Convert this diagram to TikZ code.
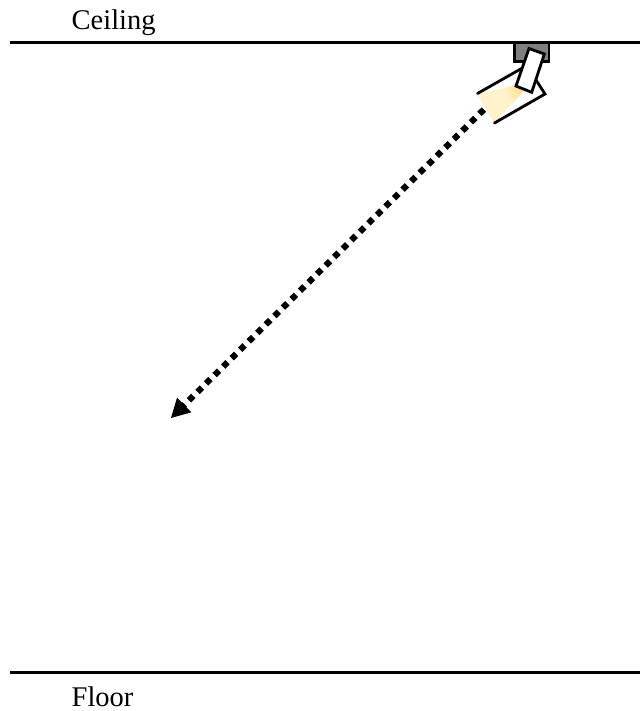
\documentclass[tikz,border=0pt]{standalone}
\usepackage{fontspec}
\setmainfont{Liberation Serif}
\usetikzlibrary{arrows.meta,shadings}
\definecolor{lampgray}{HTML}{808080}
\definecolor{beamcream}{HTML}{FFF2CC}
\definecolor{beamdeep}{HTML}{FFE08A}
\tikzset{
  plane/.style={line width=2.8pt},
  label/.style={anchor=base west,inner sep=0pt,font=\fontsize{28.5}{30}\selectfont},
  housing/.style={line width=2.8pt,line join=miter,line cap=round},
  beam/.style={line width=6.2pt,dash pattern=on 6.2pt off 5.8pt,-{Triangle[length=19pt,width=19pt]}}
}
\begin{document}
\begin{tikzpicture}[x=1pt,y=-1pt]
\useasboundingbox (0,0) rectangle (640,711);
\node[label] (ceiling) at (71.5,29.5) {Ceiling};
\node[label] (floor) at (71.5,706.5) {Floor};
\coordinate (cl) at (10,42.5); \coordinate (cr) at (640,42.5);
\coordinate (fl) at (10,672.5); \coordinate (fr) at (640,672.5);
\draw[plane] (cl) -- (cr);
\draw[plane] (fl) -- (fr);
% mount
\draw[line width=2.4pt,fill=lampgray] (514.5,43) rectangle (549,61.5);
% light cone
\begin{scope}
\clip (477,94) -- (513,86) -- (524,91) -- (494.5,123.5) -- cycle;
\fill[beamcream] (470,80) rectangle (530,130);
\shade[inner color=beamdeep,outer color=beamcream,draw=none] (519,89) circle (15);
\end{scope}
% housing
\draw[housing] (477.5,93.5) -- (521.5,68.5);
\draw[housing] (536,80) -- (545,94) -- (494.5,123);
% lamp
\draw[line width=2.8pt,line join=miter,fill=white] (529,48.5) -- (544.3,54) -- (531.7,92.3) -- (516,86) -- cycle;
% dotted ray
\coordinate (rs) at (483.9,109.5);
\coordinate (rt) at (170.7,418.3);
\draw[beam] (rs) -- (rt);
\end{tikzpicture}
\end{document}
